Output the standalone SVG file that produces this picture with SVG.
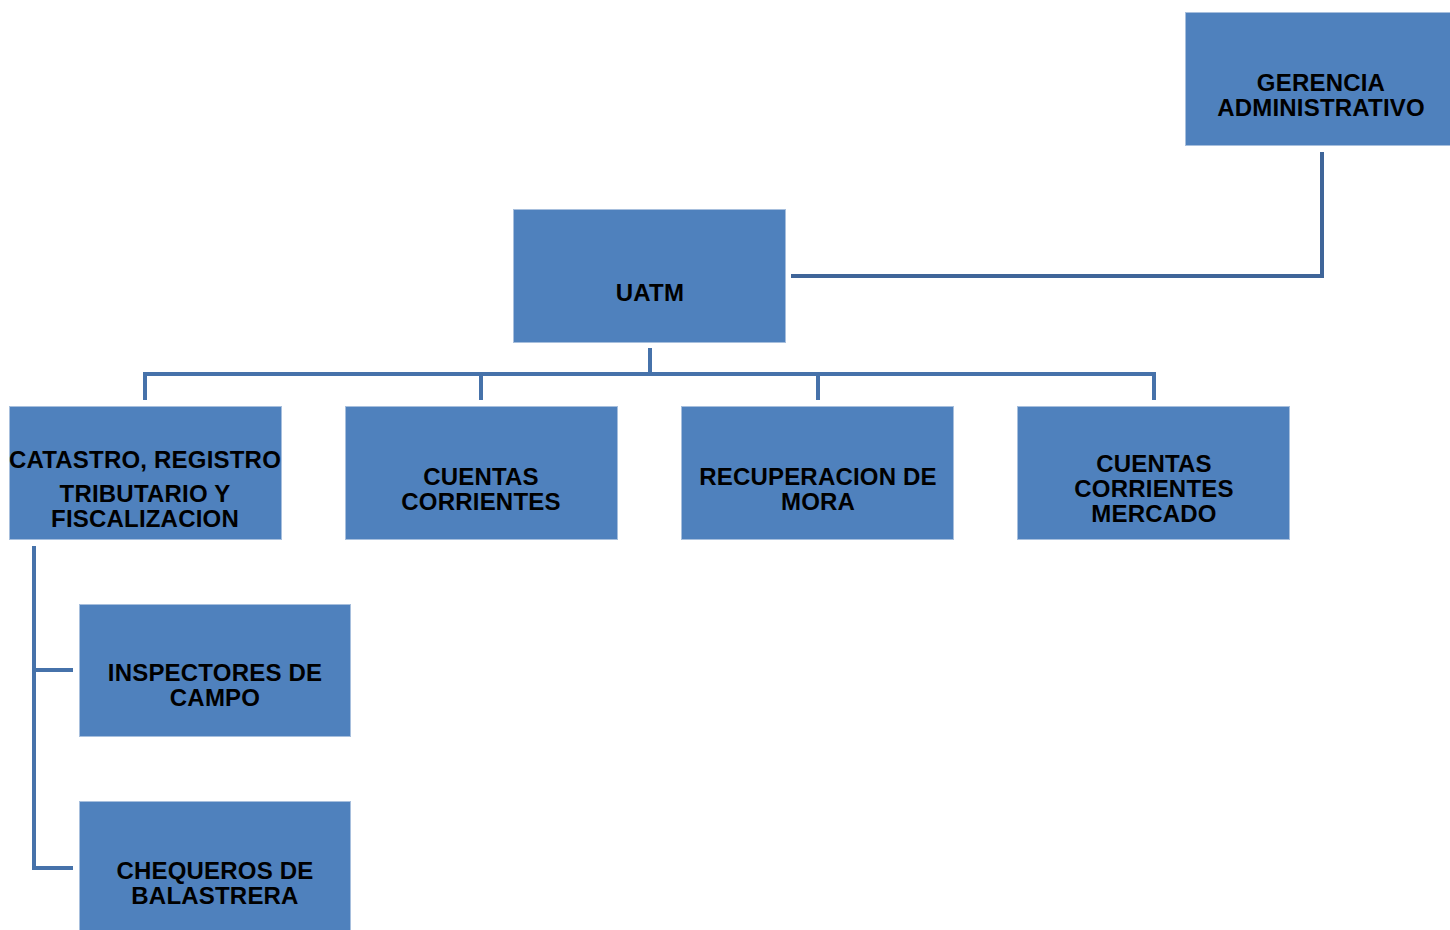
<svg xmlns="http://www.w3.org/2000/svg" width="1450" height="930" viewBox="0 0 1450 930">
<style>
.box{fill:#4f81bd;stroke:#a7bfdd;stroke-width:1}
.t{font-family:"Liberation Sans",Arial,sans-serif;font-weight:bold;font-size:24px;letter-spacing:0.2px;fill:#000;text-anchor:middle}
.c{fill:none;stroke:#4672aa;stroke-width:4}
.c2{fill:none;stroke:#3f6599;stroke-width:4}
</style>
<rect width="1450" height="930" fill="#fff"/>
<g id="connectors">
<path class="c2" d="M1322,152 V276 H791"/>
<path class="c" d="M650,348 V374 M145,400 V374 H1154 V400 M481,374 V400 M818,374 V400"/>
<path class="c" d="M34,546 V868 H73 M34,670 H73"/>
</g>
<g id="gerencia"><rect class="box" x="1185.5" y="12.5" width="270" height="133"/>
<text class="t" x="1321" y="90.5">GERENCIA</text><text class="t" x="1321" y="115.5">ADMINISTRATIVO</text></g>
<g id="uatm"><rect class="box" x="513.5" y="209.5" width="272" height="133"/>
<text class="t" x="650" y="300.5">UATM</text></g>
<g id="catastro"><rect class="box" x="9.5" y="406.5" width="272" height="133"/>
<text class="t" x="145" y="468">CATASTRO, REGISTRO</text><text class="t" x="145" y="501.5">TRIBUTARIO Y</text><text class="t" x="145" y="526.5">FISCALIZACION</text></g>
<g id="cuentas"><rect class="box" x="345.5" y="406.5" width="272" height="133"/>
<text class="t" x="481" y="485">CUENTAS</text><text class="t" x="481" y="510">CORRIENTES</text></g>
<g id="mora"><rect class="box" x="681.5" y="406.5" width="272" height="133"/>
<text class="t" x="818" y="485">RECUPERACION DE</text><text class="t" x="818" y="510">MORA</text></g>
<g id="mercado"><rect class="box" x="1017.5" y="406.5" width="272" height="133"/>
<text class="t" x="1154" y="472">CUENTAS</text><text class="t" x="1154" y="497">CORRIENTES</text><text class="t" x="1154" y="522">MERCADO</text></g>
<g id="inspectores"><rect class="box" x="79.5" y="604.5" width="271" height="132"/>
<text class="t" x="215" y="681">INSPECTORES DE</text><text class="t" x="215" y="706">CAMPO</text></g>
<g id="chequeros"><rect class="box" x="79.5" y="801.5" width="271" height="140"/>
<text class="t" x="215" y="878.5">CHEQUEROS DE</text><text class="t" x="215" y="904">BALASTRERA</text></g>
</svg>
